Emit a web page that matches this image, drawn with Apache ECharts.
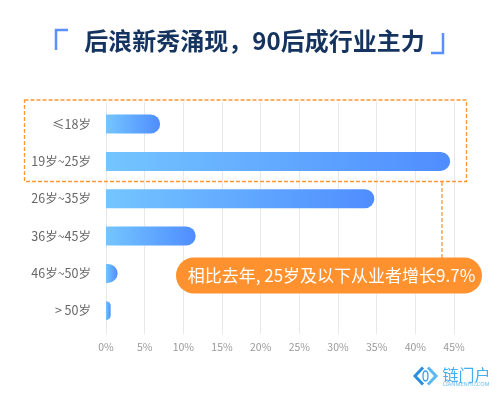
<!DOCTYPE html>
<html>
<head>
<meta charset="utf-8">
<title>后浪新秀涌现</title>
<style>
html,body{margin:0;padding:0;background:#fff;}
#main{width:500px;height:394px;}
</style>
<script src="https://cdn.jsdelivr.net/npm/echarts@6/dist/echarts.min.js"></script>
</head>
<body>
<div id="main"></div>
<script>
//年龄段
var categories = ["≤18岁","19岁~25岁","26岁~35岁","36岁~45岁","46岁~50岁","> 50岁"];
//占比
var shareValues = [7.0,44.5,34.7,11.6,1.5,0.6];
//横轴范围
var axisMax = 45;
var axisStep = 5;
var titleText = "后浪新秀涌现，90后成行业主力";
var noteText = "相比去年, 25岁及以下从业者增长9.7%";
var cjkFont = '"Noto Sans CJK SC","Noto Sans",sans-serif';
var orange = "#ff9636";

var myChart = echarts.init(document.getElementById('main'),null,{renderer:'canvas'});
var option = {
	backgroundColor:'#fff',
	animation:false,
	title:{
		text:titleText,
		left:249.5,
		top:24,
		textAlign:'center',
		textStyle:{color:'#14335f',fontSize:24,fontWeight:'bold',fontFamily:cjkFont}
	},
	grid:[
		//画柱子
		{left:106,right:46,top:105.4,height:224},
		//画竖线和刻度，比柱子区域略长
		{left:106,right:46,top:102,height:232}
	],
	xAxis:[
		{
			gridIndex:0,
			type:'value',
			min:0,
			max:axisMax,
			interval:axisStep,
			show:false
		},
		{
			gridIndex:1,
			type:'value',
			min:0,
			max:axisMax,
			interval:axisStep,
			axisLine:{show:false},
			axisTick:{show:false},
			axisLabel:{
				color:'#999',
				fontSize:10.5,
				margin:8,
				fontFamily:cjkFont,
				formatter:'{value}%'
			},
			splitLine:{show:true,lineStyle:{color:'#e8e8e8',width:1}}
		}
	],
	yAxis:[
		{
			gridIndex:0,
			type:'category',
			inverse:true,
			data:categories,
			axisLine:{show:false},
			axisTick:{show:false},
			axisLabel:{color:'#666',fontSize:12.5,margin:15,fontFamily:cjkFont}
		},
		{
			gridIndex:1,
			type:'category',
			data:categories,
			show:false
		}
	],
	series:[
		{
			type:'bar',
			xAxisIndex:0,
			yAxisIndex:0,
			data:shareValues,
			barWidth:19,
			itemStyle:{
				borderRadius:[0,10,10,0],
				color:new echarts.graphic.LinearGradient(0,0,1,0,[
					{offset:0,color:'#74c5ff'},
					{offset:1,color:'#4f8dff'}
				])
			}
		}
	],
	graphic:[
		//标题两边的括号
		{type:'polyline',shape:{points:[[68,30],[56,30],[56,50]]},style:{fill:null,stroke:'#5b8ffb',lineWidth:2.5}},
		{type:'polyline',shape:{points:[[431,53],[443,53],[443,33]]},style:{fill:null,stroke:'#5b8ffb',lineWidth:2.5}},
		//虚线框
		{type:'rect',shape:{x:24.5,y:100,width:442,height:81.5},style:{fill:null,stroke:orange,lineWidth:1.3,lineDash:[4,2]},z:10},
		{type:'line',shape:{x1:442,y1:182,x2:442,y2:258},style:{stroke:orange,lineWidth:1.3,lineDash:[4,2]},z:10},
		//说明
		{type:'rect',shape:{x:176,y:257.5,width:306,height:36,r:18},style:{fill:'#ff922f'},z:11},
		{type:'text',x:331.5,y:275.5,style:{text:noteText,fill:'#fff',fontSize:17,fontFamily:cjkFont,align:'center',verticalAlign:'middle'},z:12},
		//logo
		{type:'polyline',shape:{points:[[423,367.5],[415,376],[423,384.5]]},style:{fill:null,stroke:'#2b8fe0',lineWidth:3},z:5},
		{type:'polyline',shape:{points:[[428,367.5],[436,376],[428,384.5]]},style:{fill:null,stroke:'#58b9f2',lineWidth:3},z:5},
		{type:'ellipse',shape:{cx:425.5,cy:376,rx:2.5,ry:5},style:{fill:null,stroke:'#3a9fe8',lineWidth:1.3},z:5},
		{type:'text',x:442.5,y:374.5,style:{text:'链门户',fill:'#45aef0',fontSize:16,fontFamily:cjkFont,verticalAlign:'middle'},z:5},
		{type:'text',x:443,y:384.5,style:{text:'LIANMENHU.COM',fill:'#6bbdf2',fontSize:5.5,fontFamily:'"Noto Sans",sans-serif',verticalAlign:'middle'},z:5}
	]
};
myChart.setOption(option);
</script>
</body>
</html>
